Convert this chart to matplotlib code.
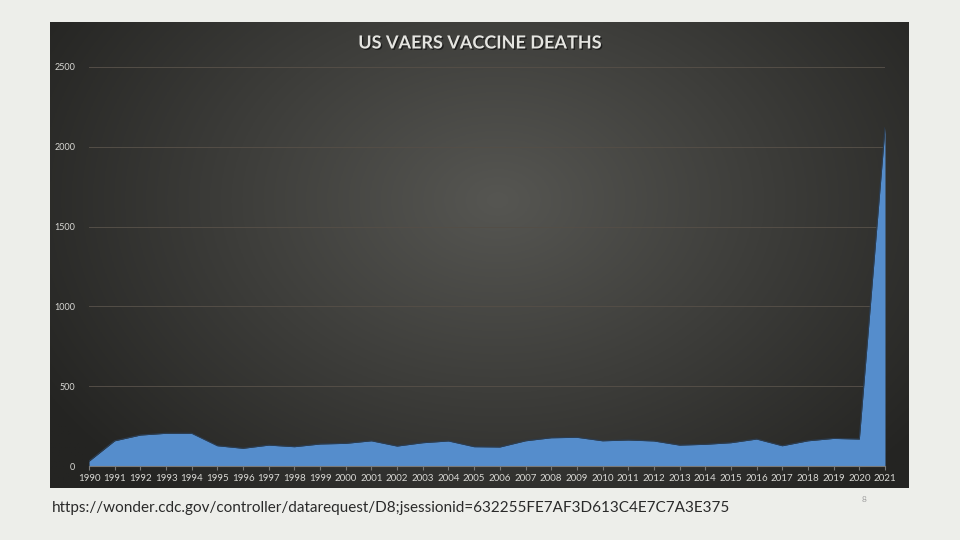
import numpy as np
import matplotlib
matplotlib.use("Agg")
import matplotlib.pyplot as plt
import matplotlib.patheffects as pe

years = list(range(1990, 2022))
deaths = [30, 158, 194, 205, 205, 127, 111, 131, 121, 138, 142, 158, 125, 146, 157, 121,
          119, 158, 177, 180, 158, 163, 157, 131, 136, 146, 169, 127, 158, 173, 169, 2118]
yticks = [0, 500, 1000, 1500, 2000, 2500]
title = "US VAERS VACCINE DEATHS"
source = "https://wonder.cdc.gov/controller/datarequest/D8;jsessionid=632255FE7AF3D613C4E7C7A3E375"

plt.rcParams['font.family'] = ['Lato', 'DejaVu Sans']

W, H = 960, 540
fig = plt.figure(figsize=(9.6, 5.4), dpi=100, facecolor='#edeeea')

# dark chart frame with radial gradient
fx0, fy0, fx1, fy1 = 50, 22, 908, 488
bg = fig.add_axes([fx0 / W, 1 - fy1 / H, (fx1 - fx0) / W, (fy1 - fy0) / H])
bg.set_axis_off()
ny, nx = 200, 360
yy, xx = np.mgrid[0:ny, 0:nx]
cx, cy = nx * 0.52, ny * 0.38
r = np.sqrt(((xx - cx) / nx) ** 2 + ((yy - cy) / ny * 0.75) ** 2)
r = np.clip(r / 0.62, 0, 1)
c_in = np.array([86, 86, 82]) / 255
c_out = np.array([36, 36, 34]) / 255
img = c_in[None, None, :] * (1 - r[..., None]) + c_out[None, None, :] * r[..., None]
bg.imshow(img, aspect='auto', extent=[0, 1, 0, 1])
bg.set_xlim(0, 1); bg.set_ylim(0, 1)

# plot area
px0, px1, py0, py1 = 89, 885, 67, 466
ax = fig.add_axes([px0 / W, 1 - py1 / H, (px1 - px0) / W, (py1 - py0) / H])
ax.patch.set_alpha(0)
ax.fill_between(years, deaths, 0, color='#558dcc', zorder=3, linewidth=0)
ax.plot(years, deaths, color='#2b3d52', linewidth=0.8, zorder=4)
ax.set_xlim(1990, 2021)
ax.set_ylim(0, 2500)
ax.set_yticks(yticks)
ax.set_yticklabels([str(v) for v in yticks])
ax.set_xticks(years)
ax.set_xticklabels([str(y) for y in years])
for v in yticks[1:]:
    ax.axhline(v, color='#544e47', linewidth=0.7, zorder=1)
for s in ['top', 'right', 'left']:
    ax.spines[s].set_visible(False)
ax.spines['bottom'].set_color('#7a7a78')
ax.spines['bottom'].set_zorder(5)
ax.tick_params(axis='y', length=0, pad=10, labelsize=6.5, labelcolor='#d8d8d4')
ax.tick_params(axis='x', length=3, color='#7a7a78', pad=3, labelsize=7, labelcolor='#d8d8d4')

fig.text(480 / W, 1 - 43 / H, title, ha='center', va='center', fontsize=13,
         fontweight='bold', color='#e4e4e0',
         path_effects=[pe.withSimplePatchShadow(offset=(1, -1), shadow_rgbFace='#111111', alpha=0.7)])

fig.text(52 / W, 1 - 508 / H, source, ha='left', va='center', fontsize=11, color='#2a2a2a')
fig.text(864 / W, 1 - 500 / H, "8", ha='center', va='center', fontsize=6, color='#a0a0a0')

fig.savefig('out.png', dpi=100, facecolor=fig.get_facecolor())
